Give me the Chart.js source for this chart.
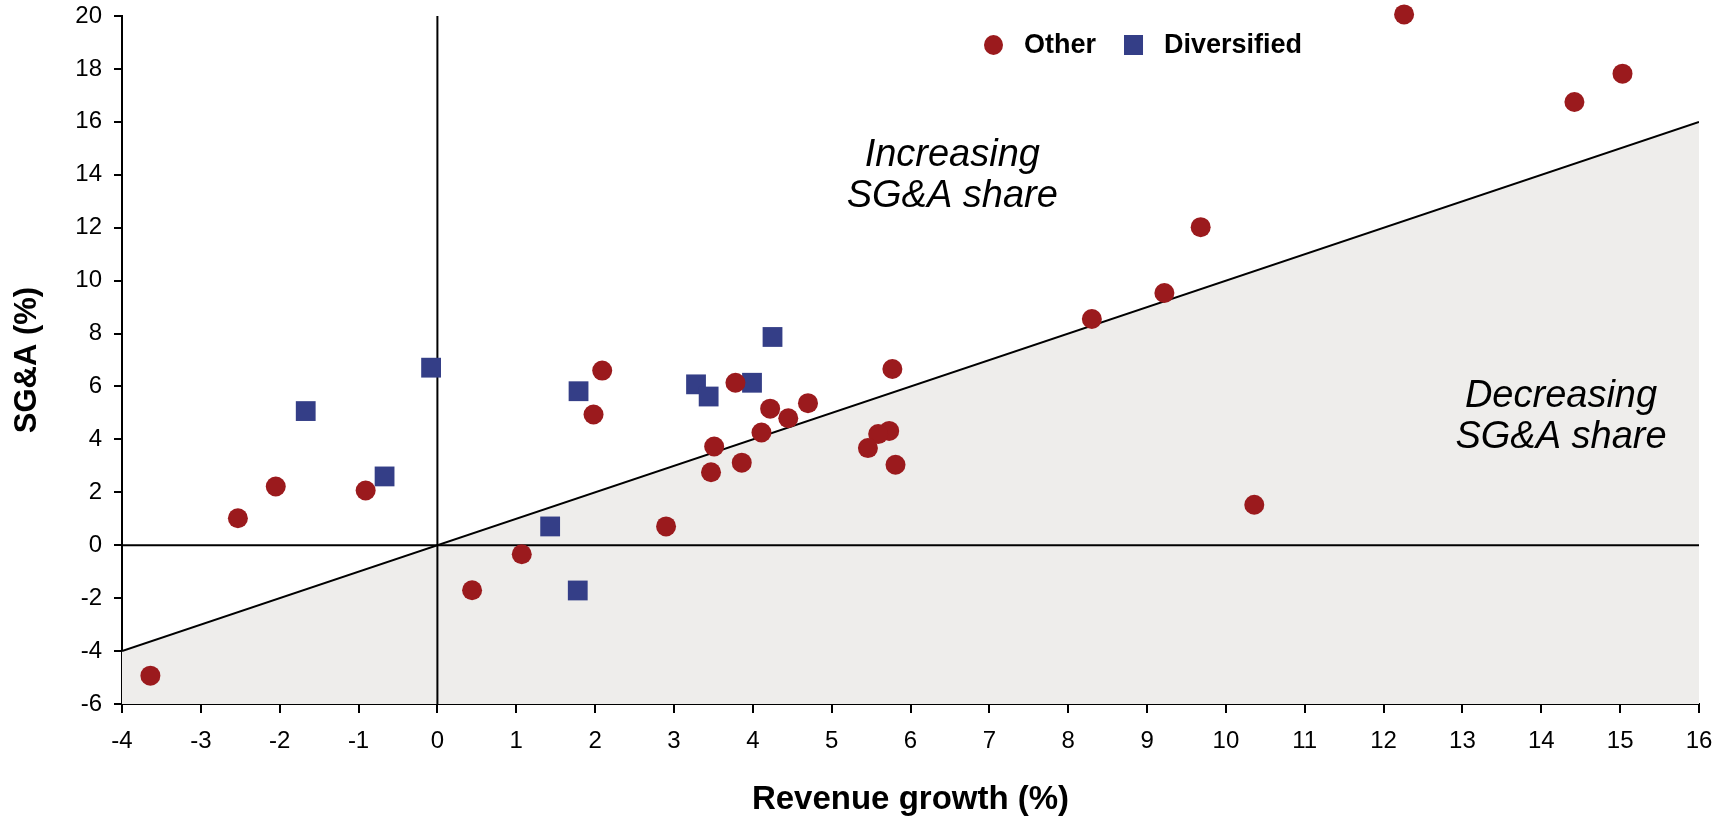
<!DOCTYPE html>
<html>
<head>
<meta charset="utf-8">
<script src="https://cdn.jsdelivr.net/npm/chart.js@4.4.0/dist/chart.umd.min.js"></script>
<style>
  html, body { margin: 0; padding: 0; background: #ffffff; }
  #wrap { width: 1733px; height: 820px; }
</style>
</head>
<body>
<div id="wrap"><canvas id="chart" width="1733" height="820"></canvas></div>
<script>
// Revenue growth (%) and SG&A growth (%) per company
const otherGrowth = [12.26, 15.03, 14.42, 9.68, 9.22, 8.30, 10.36, 5.77, 5.73, 5.59, 5.46, 5.81, 4.70, 4.45, 4.22, 4.11, 3.86, 3.51, 3.47, 3.78, 2.09, 1.98, 2.90, 1.07, 0.44, -0.91, -2.05, -2.53, -3.64];
const otherSga    = [20.06, 17.82, 16.75, 12.02, 9.53, 8.55, 1.53, 6.66, 4.32, 4.20, 3.67, 3.04, 5.37, 4.80, 5.16, 4.26, 3.12, 3.73, 2.76, 6.14, 6.60, 4.94, 0.71, -0.34, -1.70, 2.07, 2.22, 1.02, -4.93];

const diversifiedGrowth = [-0.08, -1.67, -0.67, 1.43, 1.78, 1.79, 3.28, 3.44, 3.99, 4.25];
const diversifiedSga    = [6.71, 5.07, 2.60, 0.71, -1.71, 5.82, 6.08, 5.62, 6.14, 7.87];

const seriesNames = ['Other', 'Diversified'];

// Axis extents
const growthRange = [-4, 16];
const sgaRange = [-6, 20];

// Region captions
const regionNotes = [
  ['Increasing', 'SG&A share'],
  ['Decreasing', 'SG&A share']
];

const toPoints = (xs, ys) => xs.map((x, i) => ({ x: x, y: ys[i] }));

const FONT = '"Liberation Sans", Arial, Helvetica, sans-serif';
const RED = '#9b1a1d';
const BLUE = '#343e87';

// Captions placed in data space (centre x, first baseline y)
const notesPlugin = {
  id: 'regionNotes',
  afterDatasetsDraw(chart, args, opts) {
    const { ctx, scales } = chart;
    ctx.save();
    ctx.font = 'italic 38px ' + FONT;
    ctx.fillStyle = '#000';
    ctx.textAlign = 'center';
    ctx.textBaseline = 'alphabetic';
    opts.anchors.forEach((a, i) => {
      const cx = scales.x.getPixelForValue(a.x);
      const cy = scales.y.getPixelForValue(a.y);
      regionNotes[i].forEach((line, j) => ctx.fillText(line, cx, cy + j * opts.lineGap));
    });
    ctx.restore();
  }
};

// Legend row drawn from the two company series
const legendPlugin = {
  id: 'seriesLegend',
  afterDraw(chart, args, opts) {
    const { ctx } = chart;
    ctx.save();
    ctx.font = 'bold 27px ' + FONT;
    ctx.textBaseline = 'middle';
    ctx.textAlign = 'left';
    let x = opts.left;
    const y = opts.top;
    chart.data.datasets.filter(d => d.inLegend).forEach(d => {
      ctx.fillStyle = d.backgroundColor;
      if (d.pointStyle === 'rect') {
        ctx.fillRect(x, y - 10, 19, 20);
      } else {
        ctx.beginPath();
        ctx.ellipse(x + 9.5, y, 9.5, 10, 0, 0, Math.PI * 2);
        ctx.fill();
      }
      ctx.fillStyle = '#000';
      ctx.fillText(d.label, x + 40, y + 1);
      x += 40 + ctx.measureText(d.label).width + 28;
    });
    ctx.restore();
  }
};

new Chart(document.getElementById('chart'), {
  type: 'scatter',
  data: {
    datasets: [
      {
        label: seriesNames[0],
        inLegend: true,
        data: toPoints(otherGrowth, otherSga),
        pointStyle: 'circle',
        pointRadius: 10,
        backgroundColor: RED,
        borderColor: RED,
        borderWidth: 0,
        clip: false,
        order: 0
      },
      {
        label: seriesNames[1],
        inLegend: true,
        data: toPoints(diversifiedGrowth, diversifiedSga),
        pointStyle: 'rect',
        pointRadius: 14,
        backgroundColor: BLUE,
        borderColor: BLUE,
        borderWidth: 0,
        clip: false,
        order: 0
      },
      {
        label: 'zero growth',
        data: [{ x: 0, y: sgaRange[0] }, { x: 0, y: sgaRange[1] }],
        showLine: true,
        pointRadius: 0,
        borderColor: '#000',
        borderWidth: 2,
        order: 1
      },
      {
        label: 'zero SG&A',
        data: [{ x: growthRange[0], y: 0 }, { x: growthRange[1], y: 0 }],
        showLine: true,
        pointRadius: 0,
        borderColor: '#000',
        borderWidth: 2,
        order: 1
      },
      {
        label: 'parity',
        data: [{ x: growthRange[0], y: growthRange[0] }, { x: growthRange[1], y: growthRange[1] }],
        showLine: true,
        pointRadius: 0,
        borderColor: '#000',
        borderWidth: 2,
        backgroundColor: '#eeedeb',
        fill: 'start',
        order: 2
      }
    ]
  },
  options: {
    responsive: false,
    devicePixelRatio: 1,
    animation: false,
    events: [],
    layout: { padding: { top: 16, right: 34, bottom: 0, left: 0 } },
    plugins: {
      legend: { display: false },
      tooltip: { enabled: false },
      regionNotes: {
        anchors: [{ x: 6.53, y: 14.33 }, { x: 14.25, y: 5.23 }],
        lineGap: 41
      },
      seriesLegend: { left: 984, top: 45 }
    },
    scales: {
      x: {
        type: 'linear',
        min: growthRange[0],
        max: growthRange[1],
        afterFit(scale) {
          scale.height = 116;
          scale.paddingLeft = 0;
          scale.paddingRight = 0;
        },
        border: { display: true, color: '#000', width: 2 },
        grid: { drawOnChartArea: false, drawTicks: true, tickLength: 9, color: '#000', lineWidth: 2 },
        ticks: {
          stepSize: 1,
          color: '#000',
          padding: 14,
          maxRotation: 0,
          font: { family: FONT, size: 24 }
        },
        title: {
          display: true,
          text: 'Revenue growth (%)',
          color: '#000',
          font: { family: FONT, size: 33, weight: 'bold' },
          padding: { top: 0, bottom: 0 }
        }
      },
      y: {
        type: 'linear',
        min: sgaRange[0],
        max: sgaRange[1],
        afterFit(scale) {
          scale.width = 122;
          scale.paddingTop = 0;
          scale.paddingBottom = 0;
        },
        border: { display: true, color: '#000', width: 2 },
        grid: { drawOnChartArea: false, drawTicks: true, tickLength: 8, color: '#000', lineWidth: 2 },
        ticks: {
          stepSize: 2,
          color: '#000',
          padding: 12,
          font: { family: FONT, size: 24 }
        },
        title: {
          display: true,
          text: 'SG&A (%)',
          color: '#000',
          font: { family: FONT, size: 31, weight: 'bold' },
          padding: { top: 9, bottom: 0 }
        }
      }
    }
  },
  plugins: [notesPlugin, legendPlugin]
});
</script>
</body>
</html>
